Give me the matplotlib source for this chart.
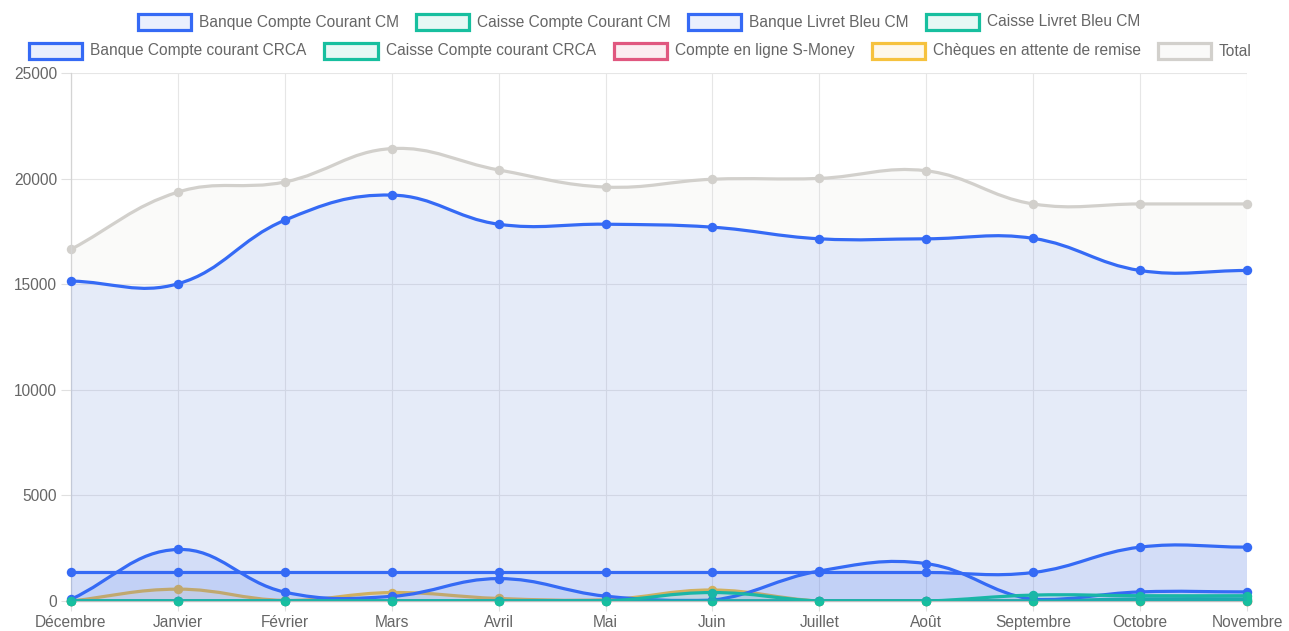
import numpy as np
import matplotlib
matplotlib.use('Agg')
import matplotlib.pyplot as plt
from matplotlib.path import Path
from matplotlib.patches import PathPatch, Rectangle

plt.rcParams['font.family'] = ['Liberation Sans', 'DejaVu Sans']

# ---- données ----
months = ['Décembre', 'Janvier', 'Février', 'Mars', 'Avril', 'Mai', 'Juin',
          'Juillet', 'Août', 'Septembre', 'Octobre', 'Novembre']

banque_cc_cm = [15150, 15020, 18030, 19220, 17840, 17840, 17700, 17150, 17150, 17170, 15650, 15650]
caisse_cc_cm = [0, 0, 0, 0, 0, 0, 400, 0, 0, 280, 250, 250]
banque_livret_cm = [1350, 1350, 1350, 1350, 1350, 1350, 1350, 1350, 1350, 1350, 2550, 2550]
caisse_livret_cm = [0, 0, 0, 0, 0, 0, 0, 0, 0, 0, 0, 0]
banque_cc_crca = [80, 2440, 420, 220, 1060, 230, 40, 1420, 1770, 80, 430, 430]
caisse_cc_crca = [0, 0, 0, 0, 0, 0, 0, 0, 0, 0, 100, 100]
smoney = [0, 0, 0, 0, 0, 0, 0, 0, 0, 0, 0, 0]
cheques = [0, 560, 30, 400, 120, 60, 520, 0, 0, 0, 0, 0]
total = [16650, 19360, 19840, 21420, 20410, 19600, 19970, 20010, 20370, 18800, 18800, 18800]

labels = ['Banque Compte Courant CM', 'Caisse Compte Courant CM', 'Banque Livret Bleu CM',
          'Caisse Livret Bleu CM', 'Banque Compte courant CRCA', 'Caisse Compte courant CRCA',
          'Compte en ligne S-Money', 'Chèques en attente de remise', 'Total']
series = [banque_cc_cm, caisse_cc_cm, banque_livret_cm, caisse_livret_cm,
          banque_cc_crca, caisse_cc_crca, smoney, cheques, total]

BLUE = '#356af5'
GREEN = '#17bf9f'
colors = [BLUE, GREEN, BLUE, GREEN, BLUE, GREEN, '#e0577f', '#f6c23e', '#d2d0cc']

W, H = 1289, 631
fig = plt.figure(figsize=(W / 100, H / 100), dpi=100)

# zone du graphique en pixels (gauche, haut, droite, bas)
L, T, R, B = 71, 73, 1247, 601
ax = fig.add_axes([L / W, 1 - B / H, (R - L) / W, (B - T) / H])
ax.set_xlim(0, len(months) - 1)
ax.set_ylim(0, 25000)

x = np.arange(len(months))


def spline_path(xs, ys, tension=0.4):
    # courbe de bezier façon Chart.js, calculée en pixels
    pts = ax.transData.transform(np.column_stack([xs, ys]))
    n = len(pts)
    cps = []
    for i in range(n):
        cur = pts[i]
        prev = pts[i - 1] if i > 0 else cur
        nxt = pts[i + 1] if i < n - 1 else cur
        d01 = np.hypot(*(cur - prev))
        d12 = np.hypot(*(nxt - cur))
        tot = d01 + d12
        s01 = d01 / tot if tot else 0
        s12 = d12 / tot if tot else 0
        cp_prev = cur - tension * s01 * (nxt - prev)
        cp_next = cur + tension * s12 * (nxt - prev)
        cps.append((cp_prev, cp_next))
    # on garde les points de contrôle dans la zone du graphique
    x0, y0 = ax.transData.transform((0, 0))
    x1, y1 = ax.transData.transform((len(months) - 1, 25000))
    inv = ax.transData.inverted()
    verts = [inv.transform(pts[0])]
    codes = [Path.MOVETO]
    for i in range(1, n):
        a = np.clip(cps[i - 1][1], [x0, y0], [x1, y1])
        b = np.clip(cps[i][0], [x0, y0], [x1, y1])
        verts += [inv.transform(a), inv.transform(b), inv.transform(pts[i])]
        codes += [Path.CURVE4] * 3
    return verts, codes


# Chart.js dessine le dernier jeu de données en premier
for k in range(len(series) - 1, -1, -1):
    ys = series[k]
    col = colors[k]
    verts, codes = spline_path(x, ys)
    z = 2 + (len(series) - k) * 0.1
    # remplissage jusqu'à zéro
    fverts = verts + [(x[-1], 0), (x[0], 0), verts[0]]
    fcodes = codes + [Path.LINETO, Path.LINETO, Path.CLOSEPOLY]
    ax.add_patch(PathPatch(Path(fverts, fcodes), facecolor=col, alpha=0.1,
                           edgecolor='none', zorder=z))
    ax.add_patch(PathPatch(Path(verts, codes), facecolor='none', edgecolor=col,
                           linewidth=2.3, zorder=z + 0.02, capstyle='round',
                           joinstyle='round'))
    ax.plot(x, ys, 'o', color=col, markersize=6.8, markeredgewidth=0,
            zorder=z + 0.04, clip_on=False)

# ---- axes et grille ----
ax.set_xticks(x)
ax.set_xticklabels(months)
ax.set_yticks(range(0, 25001, 5000))
ax.set_yticklabels([str(v) for v in range(0, 25001, 5000)])
ax.grid(True, color='#e6e6e6', linewidth=0.8, zorder=0)
ax.set_axisbelow(True)
ax.tick_params(axis='both', colors='#e0e0e0', labelcolor='#666666', labelsize=11.2,
               length=7, width=0.8)
ax.tick_params(axis='y', pad=3)
ax.tick_params(axis='x', pad=3)
for s in ['top', 'right']:
    ax.spines[s].set_visible(False)
ax.spines['left'].set_color('#d4d4d4')
ax.spines['bottom'].set_color('#bdbdbd')
ax.spines['left'].set_linewidth(0.9)
ax.spines['bottom'].set_linewidth(1.0)

# ---- légende sur deux lignes ----
rows = [(22, [136, 414, 686, 924]), (51, [27, 323, 612, 870, 1156])]
k = 0
for yc, starts in rows:
    for xs0 in starts:
        col = colors[k]
        fig.patches.append(Rectangle(((xs0 + 1.5) / W, 1 - (yc + 8) / H), 53 / W, 16 / H,
                                     transform=fig.transFigure, facecolor=matplotlib.colors.to_rgba(col, 0.1),
                                     edgecolor=col, linewidth=2.3))
        fig.text((xs0 + 63) / W, 1 - yc / H, labels[k], ha='left', va='center',
                 fontsize=11.2, color='#666666')
        k += 1

fig.savefig('out.png', dpi=100)
